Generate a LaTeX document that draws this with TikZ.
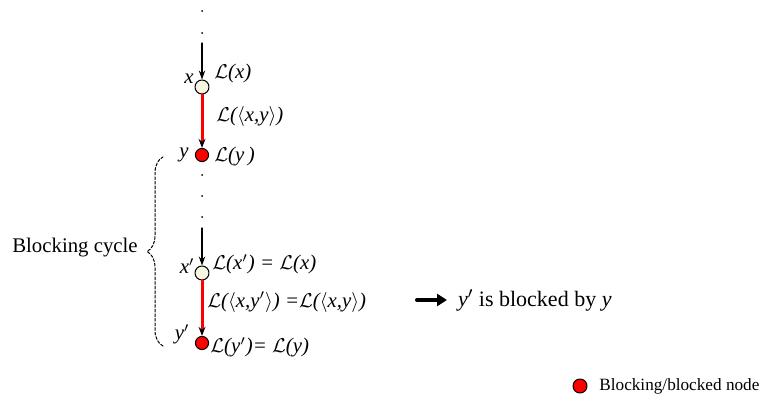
\documentclass[tikz,border=0pt]{standalone}
\usepackage{fontspec}
\setmainfont{Liberation Serif}
\usetikzlibrary{arrows.meta,decorations.pathreplacing}
\definecolor{cream}{RGB}{246,245,226}
\newcommand{\Lc}{$\mathcal{L}$}
\begin{document}
\begin{tikzpicture}[x=0.5pt,y=-0.5pt,line cap=round,line join=round,
  font=\fontsize{10.4}{12.5}\selectfont,
  plainnode/.style={circle,draw,fill=cream,inner sep=0pt,minimum size=7pt,line width=0.5pt},
  blocknode/.style={circle,draw,fill=red,inner sep=0pt,minimum size=6.6pt,line width=0.5pt},
  lab/.style={font=\fontsize{10.4}{12.5}\selectfont\itshape,inner sep=1pt},
  tip/.style={line width=0.6pt,-{Stealth[length=4.5pt,width=3.2pt]}},
  redge/.style={red,line width=1.5pt,-{Stealth[black,length=4.5pt,width=3.4pt]}}]
\useasboundingbox (0,0) rectangle (765,401);

% upper pair
\coordinate (t1) at (202,43);
\node[plainnode] (x) at (202,87) {};
\node[blocknode] (y) at (202,155) {};
\foreach \yy in {11,33,175,196,217}
  \fill (202,\yy) circle (0.5pt);

\draw[tip] (t1) -- (x);
\draw[redge] (x) -- (y);

\node[lab,anchor=east] (xl) at (196,79) {x};
\node[lab,anchor=west] (Lx) at (212,73) {\Lc(x)};
\node[lab,anchor=west] (Lxy) at (214,116) {\Lc($\langle$x,y$\rangle$)};
\node[lab,anchor=east] (yl) at (191,155) {y};
\node[lab,anchor=west] (Ly) at (212,157) {\Lc(y\,)};

% lower pair
\coordinate (t2) at (202,228);
\node[plainnode] (xp) at (202,273) {};
\node[blocknode] (yp) at (202,343) {};

\draw[tip] (t2) -- (xp);
\draw[redge] (xp) -- (yp);

\node[lab,anchor=east] (xpl) at (197,266) {x$'$};
\node[lab,anchor=west] (Lxp) at (210,264) {\Lc(x$'$) = \Lc(x)};
\node[lab,anchor=west] (Lxyp) at (205,302) {\Lc($\langle$x,y$'\rangle$) =\Lc($\langle$x,y$\rangle$)};
\node[lab,anchor=east] (ypl) at (192,334) {y$'$};
\node[lab,anchor=west] (Lyp) at (208,347) {\Lc(y$'$)= \Lc(y)};

% cycle brace
\coordinate (bb) at (163,346);
\coordinate (bt) at (163,157);
\draw[dash pattern=on 1.4pt off 0.9pt,line width=0.5pt,decoration={brace,amplitude=8pt},decorate] (bb) -- (bt);
\node (cyc) at (75,248) {Blocking cycle};

% conclusion
\coordinate (a1) at (417,300);
\coordinate (a2) at (447,300);
\draw[line width=2pt,-{Triangle[length=5pt,width=6pt]}] (a1) -- (a2);
\node[anchor=west,font=\fontsize{11}{13}\selectfont] (res) at (451,300) {\textit{y$'$} is blocked by \textit{y}};

% legend
\node[blocknode,minimum size=7pt] (leg) at (580,386) {};
\node[anchor=west,inner sep=0pt,font=\fontsize{8.6}{10}\selectfont] (legt) at (599,386) {Blocking/blocked node};
\end{tikzpicture}
\end{document}
